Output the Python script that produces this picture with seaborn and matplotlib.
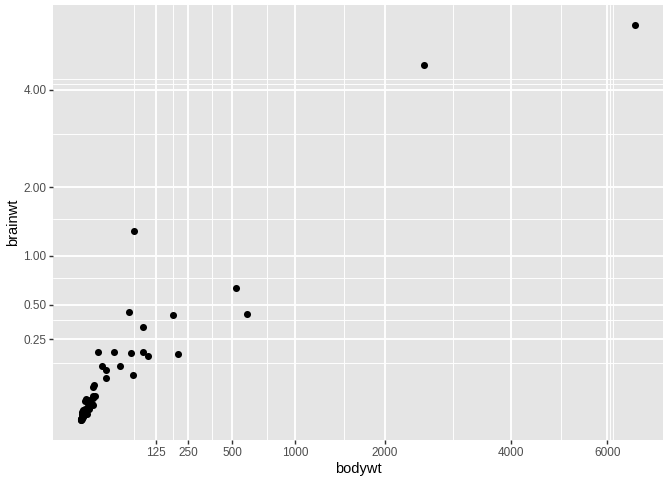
import numpy as np
import pandas as pd
import matplotlib
matplotlib.use("Agg")
import matplotlib.pyplot as plt
import seaborn as sns

# mammals with a known brain weight (kg), body weight (kg)
bodywt = [0.48, 0.019, 600, 14, 14.8, 33.5, 0.728, 0.42, 0.06, 1, 0.005,
          3.5, 2.95, 1.7, 2547, 0.023, 521, 187, 0.77, 10, 3.3, 0.2, 85,
          2.625, 62, 6654, 6.8, 0.12, 0.022, 0.01, 1.4, 2.5, 55.5, 52.2,
          100, 25.235, 0.55, 1.62, 60, 3.6, 0.32, 0.743, 0.075, 0.148,
          0.122, 0.92, 0.101, 86.25, 4.5, 207.501, 0.9, 0.104, 2, 3.38,
          4.23, 0.048]
brainwt = [0.0155, 0.00029, 0.423, 0.07, 0.0982, 0.115, 0.0055, 0.0064,
           0.001, 0.0066, 0.00014, 0.0108, 0.0123, 0.0063, 4.603, 0.0003,
           0.655, 0.419, 0.0035, 0.115, 0.0256, 0.005, 0.325, 0.01227,
           1.32, 5.712, 0.179, 0.001, 0.0004, 0.00025, 0.0125, 0.0121,
           0.175, 0.44, 0.157, 0.18, 0.0024, 0.0114, 0.081, 0.021, 0.0019,
           0.02, 0.0012, 0.00118, 0.003, 0.0057, 0.004, 0.18, 0.025, 0.169,
           0.0026, 0.0025, 0.0175, 0.0445, 0.0504, 0.00033]

x_breaks = [125, 250, 500, 1000, 2000, 4000, 6000]
x_labels = ["125", "250", "500", "1000", "2000", "4000", "6000"]
x_minor = [62.5, 187.5, 375, 750, 1500, 3000, 5000, 6062.5, 6125]
y_breaks = [0.25, 0.5, 1, 2, 4]
y_labels = ["0.25", "0.50", "1.00", "2.00", "4.00"]
y_minor = [0.125, 0.375, 0.75, 1.5, 3, 4.125, 4.25]

df = pd.DataFrame({"bodywt": bodywt, "brainwt": brainwt})
# sqrt scale on both axes
df["sx"] = np.sqrt(df["bodywt"])
df["sy"] = np.sqrt(df["brainwt"])

sns.set_theme(style="dark")
plt.rcParams["font.family"] = ["Liberation Sans", "DejaVu Sans"]

fig = plt.figure(figsize=(7, 5), dpi=96)
ax = fig.add_axes([53 / 672, 1 - 440 / 480, 610 / 672, 435 / 480])
ax.set_facecolor("#E5E5E5")
for s in ax.spines.values():
    s.set_visible(False)

sns.scatterplot(data=df, x="sx", y="sy", ax=ax, color="black", s=28,
                linewidth=0, zorder=3)

def expand(v):
    lo, hi = v.min(), v.max()
    d = (hi - lo) * 0.05
    return lo - d, hi + d

ax.set_xlim(*expand(df["sx"]))
ax.set_ylim(*expand(df["sy"]))

ax.set_xticks(np.sqrt(x_breaks))
ax.set_xticklabels(x_labels)
ax.set_xticks(np.sqrt(x_minor), minor=True)
ax.set_yticks(np.sqrt(y_breaks))
ax.set_yticklabels(y_labels)
ax.set_yticks(np.sqrt(y_minor), minor=True)

ax.grid(which="major", color="white", linewidth=1.42)
ax.grid(which="minor", color="white", linewidth=0.71)
ax.set_axisbelow(True)

ax.tick_params(which="major", length=2.75, width=1.07, color="#333333",
               labelsize=8.8, labelcolor="#4D4D4D", pad=2.2,
               bottom=True, left=True)
ax.tick_params(which="minor", length=0, bottom=False, left=False)

ax.set_xlabel("bodywt", fontsize=11, color="black", labelpad=2.75)
ax.set_ylabel("brainwt", fontsize=11, color="black", labelpad=2.75)

fig.savefig("out.png", dpi=96, facecolor="white")
